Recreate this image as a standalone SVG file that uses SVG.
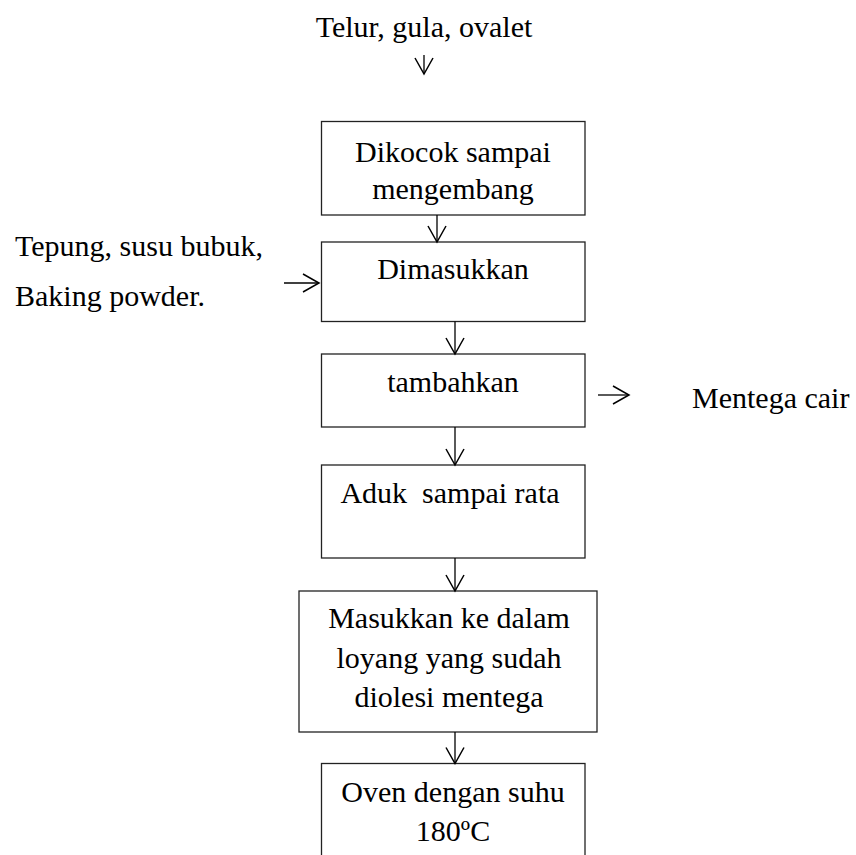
<svg xmlns="http://www.w3.org/2000/svg" width="856" height="855" viewBox="0 0 856 855">
<style>
.box{fill:#fff;stroke:#222;stroke-width:1.3}
.t{font-family:"Liberation Serif","Times New Roman",serif;font-size:30px;fill:#000}
.c{text-anchor:middle}
.ln{stroke:#000;stroke-width:1.3;fill:none;marker-end:url(#ah)}
</style>
<defs>
<marker id="ah" viewBox="0 0 20 20" refX="17" refY="10" markerWidth="20" markerHeight="20" markerUnits="userSpaceOnUse" orient="auto" overflow="visible">
<path d="M1,1 L17,10 L1,19" fill="none" stroke="#000" stroke-width="1.5"/>
</marker>
</defs>
<rect width="856" height="855" fill="#fff"/>
<g id="input-top"><text class="t c" x="424" y="37">Telur, gula, ovalet</text></g>
<g id="input-left"><text class="t" x="15" y="256">Tepung, susu bubuk,</text><text class="t" x="15" y="306">Baking powder.</text></g>
<g id="input-right"><text class="t" x="692" y="408">Mentega cair</text></g>
<g id="n1"><rect class="box" x="321.5" y="121.5" width="263.5" height="93.5"/><text class="t c" x="453" y="162">Dikocok sampai</text><text class="t c" x="453" y="199">mengembang</text></g>
<g id="n2"><rect class="box" x="321.5" y="242" width="263.5" height="79.5"/><text class="t c" x="453" y="279">Dimasukkan</text></g>
<g id="n3"><rect class="box" x="321.5" y="354" width="263.5" height="73"/><text class="t c" x="453" y="392">tambahkan</text></g>
<g id="n4"><rect class="box" x="321.5" y="465" width="263.5" height="93"/><text class="t c" x="450" y="503" xml:space="preserve">Aduk  sampai rata</text></g>
<g id="n5"><rect class="box" x="299" y="591" width="298" height="141"/><text class="t c" x="449" y="628">Masukkan ke dalam</text><text class="t c" x="449" y="668">loyang yang sudah</text><text class="t c" x="449" y="707">diolesi mentega</text></g>
<g id="n6"><rect class="box" x="321.5" y="763.5" width="263.5" height="120"/><text class="t c" x="453" y="802">Oven dengan suhu</text><text class="t c" x="453" y="841">180ºC</text></g>
<g id="connectors">
<line class="ln" x1="424" y1="55" x2="424" y2="74"/>
<line class="ln" x1="437" y1="215" x2="437" y2="242"/>
<line class="ln" x1="284" y1="283" x2="319" y2="283"/>
<line class="ln" x1="455" y1="321.5" x2="455" y2="354"/>
<line class="ln" x1="598" y1="395" x2="629" y2="395"/>
<line class="ln" x1="455" y1="427" x2="455" y2="465"/>
<line class="ln" x1="455" y1="558" x2="455" y2="591"/>
<line class="ln" x1="455" y1="732" x2="455" y2="763.5"/>
</g>
</svg>
